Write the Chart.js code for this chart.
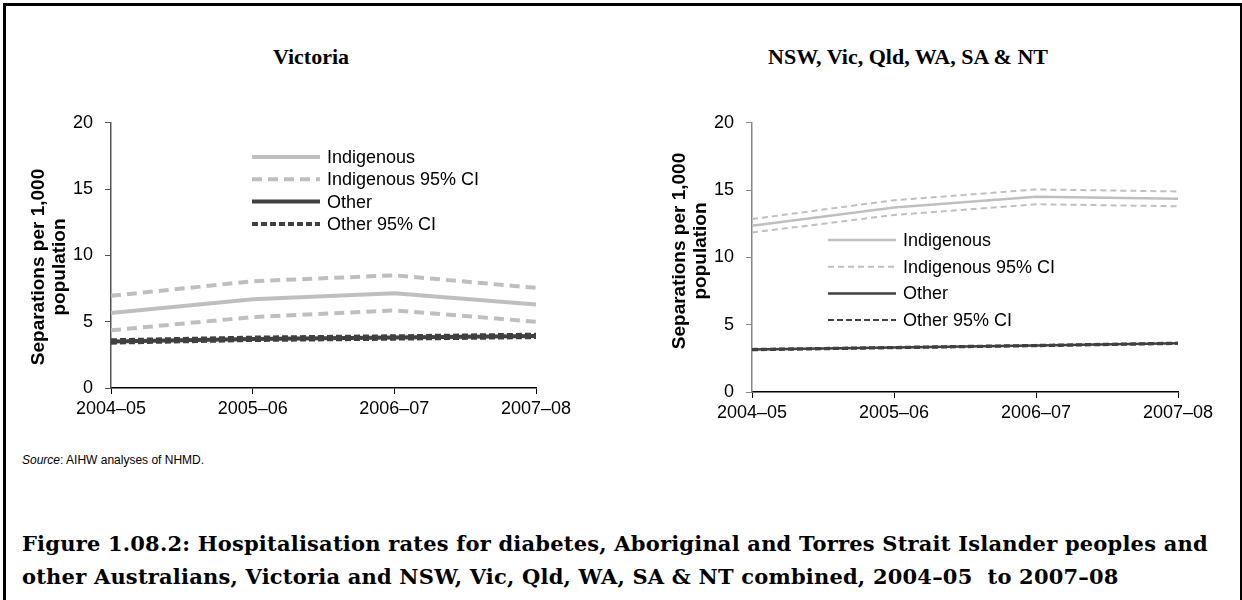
<!DOCTYPE html>
<html>
<head>
<meta charset="utf-8">
<script src="https://cdn.jsdelivr.net/npm/chart.js@4/dist/chart.umd.min.js"></script>
<style>
  html, body { margin: 0; padding: 0; background: #fff; }
  body { width: 1242px; height: 600px; position: relative; overflow: hidden; font-family: "Liberation Sans", Arial, sans-serif; }
  .frame { position: absolute; left: 3px; top: 3px; width: 1234px; height: 640px; border-left: 3px solid #000; border-top: 3px solid #000; border-right: 2px solid #000; }
  .ptitle { position: absolute; top: 44px; font-family: "Liberation Serif", serif; font-weight: bold; font-size: 22px; transform: translateX(-50%); white-space: nowrap; }
  .box { position: absolute; top: 100px; height: 330px; }
  .source { position: absolute; left: 22px; top: 453px; font-size: 12px; }
  .caption { position: absolute; left: 22px; top: 527px; font-family: "DejaVu Serif", serif; font-weight: bold; font-size: 21px; letter-spacing: 0.2px; line-height: 33px; white-space: nowrap; }
</style>
</head>
<body>
<div class="frame"></div>
<div class="ptitle" style="left:311px">Victoria</div>
<div class="ptitle" style="left:908px">NSW, Vic, Qld, WA, SA &amp; NT</div>
<div class="box" style="left:0;width:620px"><canvas id="vicChart"></canvas></div>
<div class="box" style="left:620px;width:622px"><canvas id="allChart"></canvas></div>
<div class="source"><i>Source</i>: AIHW analyses of NHMD.</div>
<div class="caption">Figure 1.08.2: Hospitalisation rates for diabetes, Aboriginal and Torres Strait Islander peoples and<br>other Australians, Victoria and NSW, Vic, Qld, WA, SA &amp; NT combined, 2004&#8211;05&nbsp; to 2007&#8211;08</div>
<script>
// categories + values
var years = ['2004–05', '2005–06', '2006–07', '2007–08'];
var yTicks = [0, 5, 10, 15, 20];

var vicIndig = [5.65, 6.7, 7.15, 6.3];
var vicIndigHi = [6.95, 8.05, 8.5, 7.55];
var vicIndigLo = [4.35, 5.35, 5.85, 5.0];
var vicOther = [3.5, 3.7, 3.8, 3.92];
var vicOtherHi = [3.6, 3.8, 3.9, 4.02];
var vicOtherLo = [3.42, 3.62, 3.72, 3.84];

var allIndig = [12.35, 13.7, 14.5, 14.35];
var allIndigHi = [12.85, 14.25, 15.05, 14.9];
var allIndigLo = [11.85, 13.15, 13.95, 13.8];
var allOther = [3.15, 3.3, 3.45, 3.62];
var allOtherHi = [3.2, 3.35, 3.5, 3.67];
var allOtherLo = [3.1, 3.25, 3.4, 3.57];

var seriesNames = ['Indigenous', 'Indigenous 95% CI', 'Other', 'Other 95% CI'];

var LIGHT = '#bfbfbf';
var DARK = '#404040';
var FONT = '"Liberation Sans", Arial, sans-serif';
var FS = 18;

// legend drawn inside the plot, one row per labelled dataset
var insideLegend = {
  id: 'insideLegend',
  afterDraw: function (chart) {
    var o = chart.options.plugins.insideLegend;
    if (!o) return;
    var ctx = chart.ctx;
    ctx.save();
    ctx.font = FS + 'px ' + FONT;
    ctx.textBaseline = 'middle';
    ctx.fillStyle = '#000';
    var row = 0;
    chart.data.datasets.forEach(function (ds) {
      if (!ds.label) return;
      var y = o.y + row * o.rowH;
      ctx.strokeStyle = ds.borderColor;
      ctx.lineWidth = ds.borderWidth;
      ctx.setLineDash(ds.borderDash || []);
      ctx.beginPath();
      ctx.moveTo(o.x, y);
      ctx.lineTo(o.x + o.len, y);
      ctx.stroke();
      ctx.setLineDash([]);
      ctx.fillText(ds.label, o.x + o.len + 7, y + 1);
      row++;
    });
    ctx.restore();
  }
};

// two-line rotated y title
var yTitle = {
  id: 'yTitle',
  afterDraw: function (chart) {
    var o = chart.options.plugins.yTitle;
    if (!o) return;
    var ctx = chart.ctx;
    ctx.save();
    ctx.font = 'bold 19px ' + FONT;
    ctx.fillStyle = '#000';
    ctx.textAlign = 'center';
    ctx.textBaseline = 'middle';
    ctx.translate(o.x, o.y);
    ctx.rotate(-Math.PI / 2);
    ctx.fillText('Separations per 1,000', 0, 0);
    ctx.fillText('population', 0, 21);
    ctx.restore();
  }
};

function sets(ind, hi, lo, oth, ohi, olo, w) {
  return [
    { label: seriesNames[0], data: ind, borderColor: LIGHT, borderWidth: w.solid, borderDash: [] },
    { label: seriesNames[1], data: hi, borderColor: LIGHT, borderWidth: w.dash, borderDash: w.lightDash },
    { label: '', data: lo, borderColor: LIGHT, borderWidth: w.dash, borderDash: w.lightDash },
    { label: seriesNames[2], data: oth, borderColor: DARK, borderWidth: w.solid, borderDash: [] },
    { label: seriesNames[3], data: ohi, borderColor: DARK, borderWidth: w.dash, borderDash: w.darkDash },
    { label: '', data: olo, borderColor: DARK, borderWidth: w.dash, borderDash: w.darkDash }
  ].map(function (d) {
    d.pointRadius = 0;
    d.tension = 0;
    d.fill = false;
    return d;
  });
}

function build(el, datasets, geo) {
  new Chart(el.getContext('2d'), {
    type: 'line',
    data: { labels: years, datasets: datasets },
    plugins: [insideLegend, yTitle],
    options: {
      responsive: false,
      animation: false,
      layout: { padding: { top: geo.top, right: geo.right, left: 0, bottom: 0 } },
      plugins: {
        legend: { display: false },
        tooltip: { enabled: false },
        insideLegend: geo.legend,
        yTitle: geo.title
      },
      scales: {
        x: {
          offset: false,
          afterFit: function (s) { s.height = geo.xh; },
          grid: { drawOnChartArea: false, drawTicks: true, tickLength: 6, color: '#000', offset: false },
          border: { display: true, color: '#000', width: 1.5 },
          ticks: { color: '#000', font: { family: FONT, size: FS }, padding: 4, maxRotation: 0 }
        },
        y: {
          min: 0, max: 20,
          afterFit: function (s) { s.width = geo.yw; },
          afterBuildTicks: function (s) { s.ticks = yTicks.map(function (v) { return { value: v }; }); },
          grid: { drawOnChartArea: false, drawTicks: true, tickLength: 6, color: geo.ycol },
          border: { display: true, color: geo.ycol, width: 1.5 },
          ticks: { color: '#000', font: { family: FONT, size: FS }, padding: 12 }
        }
      }
    }
  });
}

var cv1 = document.getElementById('vicChart');
cv1.width = 620; cv1.height = 330;
build(cv1,
  sets(vicIndig, vicIndigHi, vicIndigLo, vicOther, vicOtherHi, vicOtherLo,
    { solid: 4, dash: 4, lightDash: [10, 6], darkDash: [6, 3] }),
  { top: 15, right: 84, yw: 111, xh: 42, ycol: '#555',
    legend: { x: 252, y: 57, rowH: 22.3, len: 68 },
    title: { x: 39, y: 167 } });

var cv2 = document.getElementById('allChart');
cv2.width = 622; cv2.height = 330;
build(cv2,
  sets(allIndig, allIndigHi, allIndigLo, allOther, allOtherHi, allOtherLo,
    { solid: 2.5, dash: 2, lightDash: [6, 4], darkDash: [6, 3] }),
  { top: 20, right: 64, yw: 132, xh: 38, ycol: '#888',
    legend: { x: 208, y: 140, rowH: 26.7, len: 68 },
    title: { x: 60, y: 151 } });
</script>
</body>
</html>
